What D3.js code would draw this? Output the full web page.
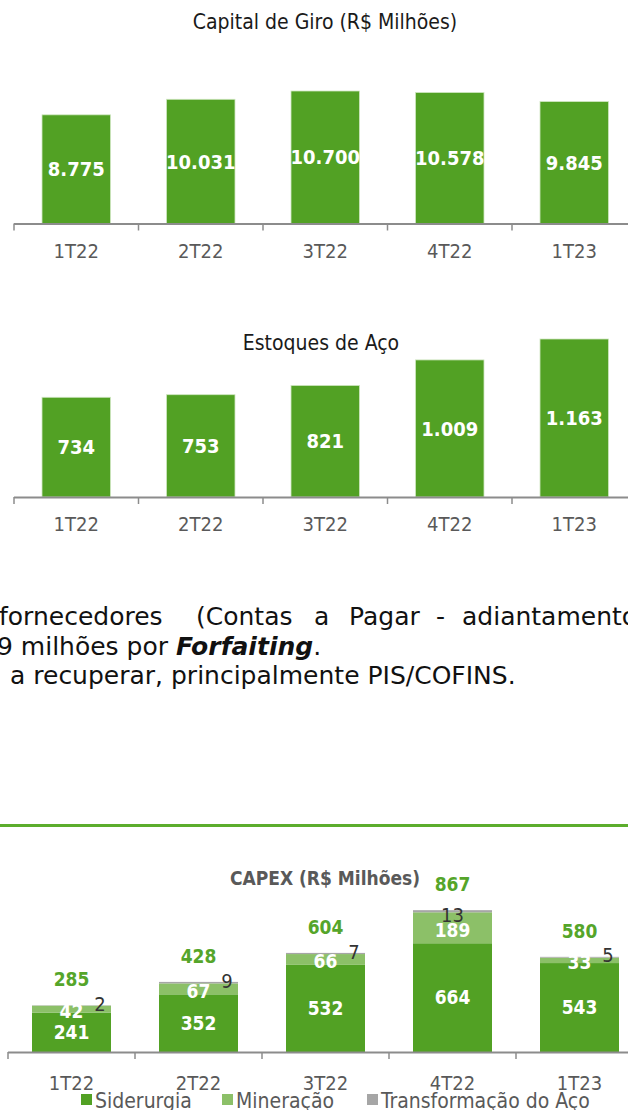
<!DOCTYPE html>
<html>
<head>
<meta charset="utf-8">
<script src="https://cdn.jsdelivr.net/npm/d3@7"></script>
<style>
  html, body { margin: 0; padding: 0; background: #fff; }
  svg { display: block; }
  text { font-family: "DejaVu Sans Condensed", "DejaVu Sans", sans-serif; }
  .reg { font-family: "DejaVu Sans", sans-serif; }
</style>
</head>
<body>
<svg id="chart" width="628" height="1110"></svg>
<script>
// ---------- data ----------
const quarters = ["1T22", "2T22", "3T22", "4T22", "1T23"];
const capitalGiro = [8775, 10031, 10700, 10578, 9845];
const capitalGiroLabels = ["8.775", "10.031", "10.700", "10.578", "9.845"];
const estoques = [734, 753, 821, 1009, 1163];
const estoquesLabels = ["734", "753", "821", "1.009", "1.163"];
const siderurgia = [241, 352, 532, 664, 543];
const mineracao = [42, 67, 66, 189, 33];
const transformacao = [2, 9, 7, 13, 5];
const capexTotal = [285, 428, 604, 867, 580];
const seriesNames = ["Siderurgia", "Mineração", "Transformação do Aço"];
const line1Words = ["fornecedores", "(Contas", "a", "Pagar", "-", "adiantamento"];

// ---------- style ----------
const GREEN = "#52a124";
const LIGHT = "#8cc068";
const GRAY = "#a6a6a6";
const AXIS = "#8c8c8c";
const LABEL = "#595959";

const svg = d3.select("#chart");

function simpleBarChart(opts) {
  const x = d3.scaleBand().domain(quarters)
    .range([opts.x0, opts.x0 + 5 * opts.step])
    .paddingInner(0.45).paddingOuter(0.225);
  const y = d3.scaleLinear().domain([0, d3.max(opts.values)]).range([opts.base, opts.top]);
  const g = svg.append("g");
  g.append("text").attr("x", opts.titleX).attr("y", opts.titleY)
    .attr("text-anchor", "middle").attr("font-size", 21).attr("fill", "#1a1a1a")
    .text(opts.title);
  g.selectAll("rect.bar").data(opts.values).join("rect")
    .attr("class", "bar")
    .attr("x", (d, i) => x(quarters[i]))
    .attr("width", x.bandwidth())
    .attr("y", d => y(d))
    .attr("height", d => y(0) - y(d))
    .attr("fill", GREEN)
    .attr("stroke", "#cfe6c0").attr("stroke-width", 0.8);
  g.selectAll("text.val").data(opts.values).join("text")
    .attr("class", "val")
    .attr("x", (d, i) => x(quarters[i]) + x.bandwidth() / 2)
    .attr("y", d => (y(d) + y(0)) / 2)
    .attr("dy", "0.36em")
    .attr("text-anchor", "middle").attr("font-size", 20).attr("font-weight", "bold")
    .attr("fill", "#fff")
    .text((d, i) => opts.labels[i]);
  // axis
  const step = x.step();
  const start = x.range()[0];
  g.append("line").attr("x1", start).attr("x2", 628).attr("y1", opts.base + 0.5).attr("y2", opts.base + 0.5)
    .attr("stroke", AXIS).attr("stroke-width", 2);
  g.selectAll("line.tick").data(d3.range(0, 6)).join("line")
    .attr("class", "tick")
    .attr("x1", i => start + i * step).attr("x2", i => start + i * step)
    .attr("y1", opts.base).attr("y2", opts.base + 7)
    .attr("stroke", AXIS).attr("stroke-width", 1.5);
  g.selectAll("text.cat").data(quarters).join("text")
    .attr("class", "cat")
    .attr("x", d => x(d) + x.bandwidth() / 2)
    .attr("y", opts.base + 27)
    .attr("dy", "0.36em")
    .attr("text-anchor", "middle").attr("font-size", 20).attr("fill", LABEL)
    .text(d => d);
}

simpleBarChart({
  values: capitalGiro, labels: capitalGiroLabels,
  x0: 14, step: 124.5, base: 223.5, top: 91,
  title: "Capital de Giro (R$ Milhões)", titleX: 325, titleY: 29
});
simpleBarChart({
  values: estoques, labels: estoquesLabels,
  x0: 14, step: 124.5, base: 497, top: 339,
  title: "Estoques de Aço", titleX: 321, titleY: 350
});

// ---------- paragraph ----------
const para = svg.append("g").attr("class", "reg").attr("font-size", 25).attr("fill", "#111");
const wordX = [-1, 196, 314, 349, 436, 462];
const l1 = para.append("text").attr("class", "reg").attr("y", 625);
l1.selectAll("tspan").data(line1Words).join("tspan")
  .attr("x", (d, i) => wordX[i]).text(d => d);
const l2 = para.append("text").attr("class", "reg").attr("x", -3).attr("y", 655);
l2.append("tspan").text("9 milhões por ");
l2.append("tspan").attr("font-weight", "bold").attr("font-style", "italic").text("Forfaiting");
l2.append("tspan").text(".");
para.append("text").attr("class", "reg").attr("x", 10).attr("y", 684)
  .text("a recuperar, principalmente PIS/COFINS.");

// separator line
svg.append("line").attr("x1", 0).attr("x2", 628).attr("y1", 825.5).attr("y2", 825.5)
  .attr("stroke", "#5cad2d").attr("stroke-width", 3);

// ---------- CAPEX stacked ----------
const cx = d3.scaleBand().domain(quarters).range([8, 8 + 5 * 127])
  .paddingInner(0.378).paddingOuter(0.189);
const cBase = 1052;
const cy = d3.scaleLinear().domain([0, d3.max(capexTotal)]).range([cBase, 910]);
const rows = quarters.map((q, i) => ({ q, s: siderurgia[i], m: mineracao[i], t: transformacao[i] }));
const stack = d3.stack().keys(["s", "m", "t"])(rows);
const colors = [GREEN, LIGHT, GRAY];
const cg = svg.append("g");
cg.append("text").attr("x", 325).attr("y", 885).attr("text-anchor", "middle")
  .attr("font-size", 19).attr("font-weight", "bold").attr("fill", LABEL)
  .text("CAPEX (R$ Milhões)");
stack.forEach((layer, li) => {
  cg.selectAll("rect.l" + li).data(layer).join("rect")
    .attr("class", "l" + li)
    .attr("x", d => cx(d.data.q))
    .attr("width", cx.bandwidth())
    .attr("y", d => cy(d[1]))
    .attr("height", d => cy(d[0]) - cy(d[1]))
    .attr("fill", colors[li]);
});
// Siderurgia labels
cg.selectAll("text.sl").data(stack[0]).join("text")
  .attr("x", d => cx(d.data.q) + cx.bandwidth() / 2)
  .attr("y", d => (cy(d[0]) + cy(d[1])) / 2)
  .attr("dy", "0.36em").attr("text-anchor", "middle")
  .attr("font-size", 19).attr("font-weight", "bold").attr("fill", "#fff")
  .text(d => d.data.s);
// Mineração labels
cg.selectAll("text.ml").data(stack[1]).join("text")
  .attr("x", d => cx(d.data.q) + cx.bandwidth() / 2)
  .attr("y", d => (cy(d[0]) + cy(d[1])) / 2 + 2)
  .attr("dy", "0.36em").attr("text-anchor", "middle")
  .attr("font-size", 19).attr("font-weight", "bold").attr("fill", "#fff")
  .text(d => d.data.m);
// Transformação labels
cg.selectAll("text.tl").data(stack[2]).join("text")
  .attr("x", d => d.data.t >= 10 ? cx(d.data.q) + cx.bandwidth() / 2 : cx(d.data.q) + cx.bandwidth() - 11)
  .attr("y", d => (cy(d[0]) + cy(d[1])) / 2 + (d.data.t >= 10 ? 4 : -2))
  .attr("dy", "0.36em").attr("text-anchor", "middle")
  .attr("font-size", 20).attr("fill", "#333")
  .text(d => d.data.t);
// totals
cg.selectAll("text.tot").data(capexTotal).join("text")
  .attr("x", (d, i) => cx(quarters[i]) + cx.bandwidth() / 2)
  .attr("y", d => cy(d) - 26)
  .attr("dy", "0.36em").attr("text-anchor", "middle")
  .attr("font-size", 19).attr("font-weight", "bold").attr("fill", "#55a52a")
  .text(d => d);
// axis
const cStep = cx.step();
cg.append("line").attr("x1", 8).attr("x2", 628).attr("y1", cBase + 0.5).attr("y2", cBase + 0.5)
  .attr("stroke", AXIS).attr("stroke-width", 2);
cg.selectAll("line.ct").data(d3.range(0, 6)).join("line")
  .attr("x1", i => 8 + i * cStep).attr("x2", i => 8 + i * cStep)
  .attr("y1", cBase).attr("y2", cBase + 7)
  .attr("stroke", AXIS).attr("stroke-width", 1.5);
cg.selectAll("text.cc").data(quarters).join("text")
  .attr("x", d => cx(d) + cx.bandwidth() / 2)
  .attr("y", cBase + 31).attr("dy", "0.36em").attr("text-anchor", "middle")
  .attr("font-size", 20).attr("fill", LABEL)
  .text(d => d);
// legend
const legX = [81, 222, 367];
const leg = cg.selectAll("g.leg").data(seriesNames).join("g")
  .attr("transform", (d, i) => `translate(${legX[i]},1094)`);
leg.append("rect").attr("x", 0).attr("y", 0).attr("width", 11).attr("height", 11)
  .attr("fill", (d, i) => colors[i]);
leg.append("text").attr("x", 14).attr("y", 6).attr("dy", "0.36em")
  .attr("font-size", 21).attr("fill", LABEL).text(d => d);
</script>
</body>
</html>
